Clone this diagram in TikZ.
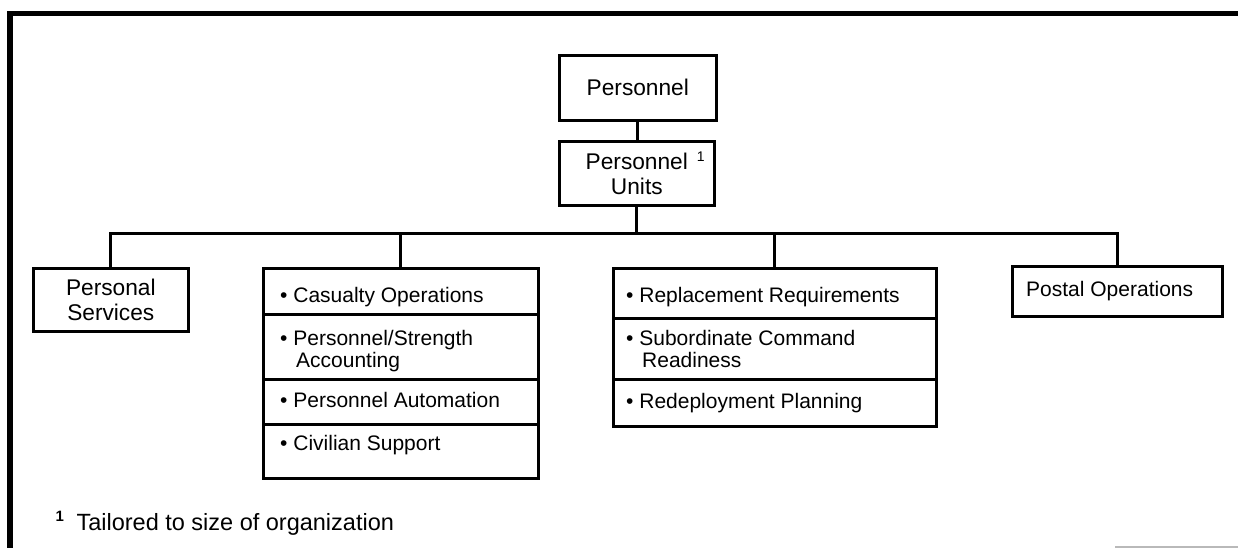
\documentclass[tikz,border=0pt]{standalone}
\usepackage{fontspec}
\setmainfont{Liberation Sans}
\newcommand\mainfs{\fontsize{21pt}{24pt}\selectfont}
\newcommand\bigfs{\fontsize{22.7pt}{24.5pt}\selectfont}
\newcommand\supone{\fontsize{14pt}{14pt}\selectfont 1}
\tikzset{
  box/.style={draw, line width=2.6pt, rectangle, inner sep=0pt, anchor=north west, align=center, font=\bigfs},
  rowbox/.style={draw, line width=2.6pt, rectangle, inner sep=0pt, anchor=north west},
  lbl/.style={anchor=base west, inner sep=0pt, font=\mainfs},
  conn/.style={line width=3pt},
}
\begin{document}
\begin{tikzpicture}[x=1pt,y=-1pt]
\useasboundingbox (0,0) rectangle (1238,548);
% frame
\draw[line width=5.5pt] (10,548) -- (10,13.5) -- (1240,13.5);
\draw[gray!55, line width=1.2pt] (1115,547) -- (1238,547);

% top boxes
\node[box, minimum width=157pt, minimum height=65pt] (pers) at (558,54) {Personnel};
\node[box, minimum width=155pt, minimum height=64pt] (pu) at (558,140)
  {Personnel\rlap{\hspace{9pt}\raisebox{8pt}{\supone}}\\Units};

% personal services
\node[box, minimum width=155pt, minimum height=63pt] (ps) at (32,267) {Personal\\Services};

% casualty block
\node[rowbox, minimum width=275pt, minimum height=46pt] (c1) at (262,267) {};
\node[rowbox, minimum width=275pt, minimum height=65pt] (c2) at (262,313) {};
\node[rowbox, minimum width=275pt, minimum height=45pt] (c3) at (262,378) {};
\node[rowbox, minimum width=275pt, minimum height=54pt] (c4) at (262,423) {};
\node[lbl] (ct1) at (280,302) {• Casualty Operations};
\node[lbl] (ct2) at (280,345) {• Personnel/Strength};
\node[lbl] (ct2b) at (296,367) {Accounting};
\node[lbl] (ct3) at (280,407) {• Personnel Automation};
\node[lbl] (ct4) at (280,450) {• Civilian Support};

% replacement block
\node[rowbox, minimum width=323pt, minimum height=50pt] (r1) at (612,267) {};
\node[rowbox, minimum width=323pt, minimum height=61pt] (r2) at (612,317) {};
\node[rowbox, minimum width=323pt, minimum height=47pt] (r3) at (612,378) {};
\node[lbl] (rt1) at (626,302) {• Replacement Requirements};
\node[lbl] (rt2) at (626,345) {• Subordinate Command};
\node[lbl] (rt2b) at (642,367) {Readiness};
\node[lbl] (rt3) at (626,408) {• Redeployment Planning};

% postal
\node[rowbox, minimum width=210pt, minimum height=50pt] (po) at (1011,265) {};
\node[lbl] (pot) at (1026,296) {Postal Operations};

% connectors
\draw[conn] (pers.south) -- (pers.south |- pu.north);
\path (pu.south) ++(0,27) coordinate (bus);
\draw[conn] (pu.south) -- (bus);
\draw[conn] (ps.north) |- (bus) -| (po.north);
\draw[conn] (c1.north) -- (c1.north |- bus);
\draw[conn] (r1.north) -- (r1.north |- bus);

% footnote
\node[anchor=base west, inner sep=0pt, font=\fontsize{23.5pt}{26pt}\selectfont] (fn) at (55.5,530)
  {\raisebox{9pt}{\fontsize{15pt}{15pt}\selectfont\bfseries 1}\hspace{12.5pt}Tailored to size of organization};
\end{tikzpicture}
\end{document}
